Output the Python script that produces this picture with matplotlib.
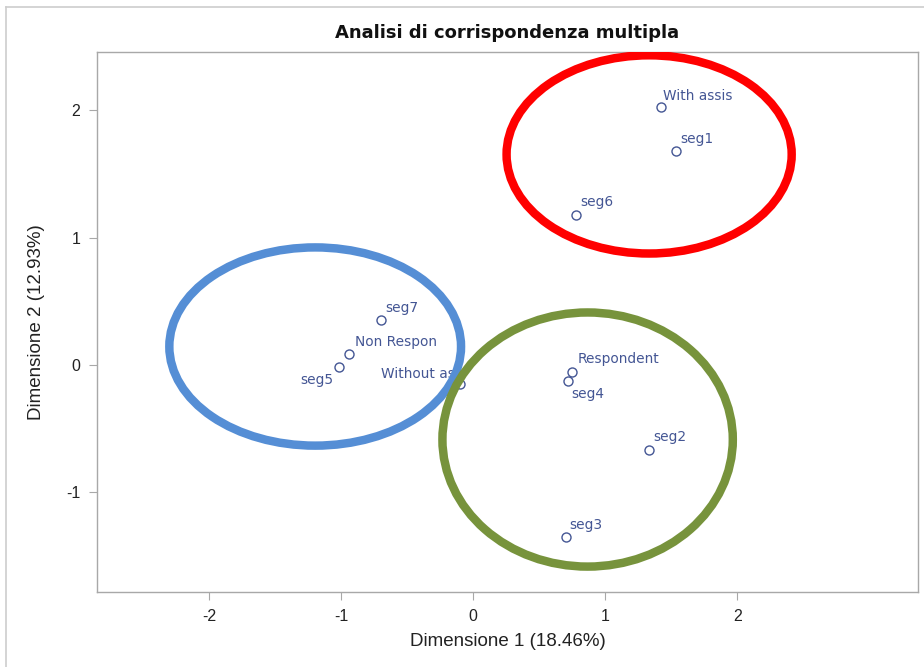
import matplotlib
matplotlib.use("Agg")
import matplotlib.pyplot as plt
from matplotlib.patches import Ellipse
from matplotlib.lines import Line2D

plt.rcParams['font.family'] = ['Liberation Sans', 'DejaVu Sans']
plt.rcParams['axes.unicode_minus'] = False

# Category coordinates on the first two dimensions
labels = ["With assis", "seg1", "seg6", "seg7", "Non Respon", "seg5",
          "Without as", "Respondent", "seg4", "seg2", "seg3"]
dim1 = [1.42, 1.54, 0.78, -0.70, -0.94, -1.02, -0.10, 0.75, 0.72, 1.33, 0.70]
dim2 = [2.03, 1.68, 1.18, 0.35, 0.08, -0.02, -0.15, -0.055, -0.13, -0.67, -1.36]

# label placement (offset in points, horizontal alignment)
label_pos = [((2, 8), 'left'), ((3, 9), 'left'), ((3, 9), 'left'), ((3, 9), 'left'),
             ((4, 9), 'left'), ((-4, -9), 'right'), ((-4, 7), 'right'),
             ((4, 9), 'left'), ((2, -9), 'left'), ((3, 9), 'left'), ((3, 9), 'left')]

# Group ellipses: centre, width, height, colour
groups = [((1.333, 1.654), 2.16, 1.56, '#FF0000'),
          ((-1.197, 0.142), 2.21, 1.56, '#558ED5'),
          ((0.867, -0.59), 2.20, 2.00, '#77933C')]

W, H = 924, 667
fig = plt.figure(figsize=(W / 100, H / 100), dpi=100)

# outer graph frame (left and top edges)
frame_kw = dict(transform=fig.transFigure, color='#CDCDCD', linewidth=1.2)
fig.lines.append(Line2D([6 / W, 6 / W], [0, 1 - 7 / H], **frame_kw))
fig.lines.append(Line2D([6 / W, 1], [1 - 7 / H, 1 - 7 / H], **frame_kw))

ax = fig.add_axes([97 / W, 1 - 592 / H, (918 - 97) / W, (592 - 52) / H])

point_color = '#445694'
ax.plot(dim1, dim2, linestyle='none', marker='o', markersize=6.5,
        markerfacecolor='none', markeredgecolor=point_color,
        markeredgewidth=1.0, zorder=3)
for lab, x, y, (off, ha) in zip(labels, dim1, dim2, label_pos):
    ax.annotate(lab, (x, y), xytext=off, textcoords='offset points',
                ha=ha, va='center', fontsize=9.9, color=point_color,
                family=['DejaVu Sans'], zorder=3)

for (c, w, h, col) in groups:
    ax.add_patch(Ellipse(c, w, h, fill=False, edgecolor=col,
                         linewidth=6.1, zorder=4))

ax.set_xlim(-2.85, 3.37)
ax.set_ylim(-1.79, 2.46)
ax.set_xticks([-2, -1, 0, 1, 2])
ax.set_yticks([-1, 0, 1, 2])
for s in ax.spines.values():
    s.set_color('#A8A8A8')
    s.set_linewidth(1.0)
ax.tick_params(direction='out', length=6, color='#A8A8A8',
               labelsize=11.5, labelcolor='#222222', pad=6)
ax.set_xlabel('Dimensione 1 (18.46%)', fontsize=13.5, color='#222222', labelpad=7)
ax.set_ylabel('Dimensione 2 (12.93%)', fontsize=13.5, color='#222222', labelpad=15)
ax.set_title('Analisi di corrispondenza multipla', fontsize=13,
             fontweight='bold', color='#111111', family=['DejaVu Sans'], pad=10)

fig.savefig('out.png', dpi=100)
